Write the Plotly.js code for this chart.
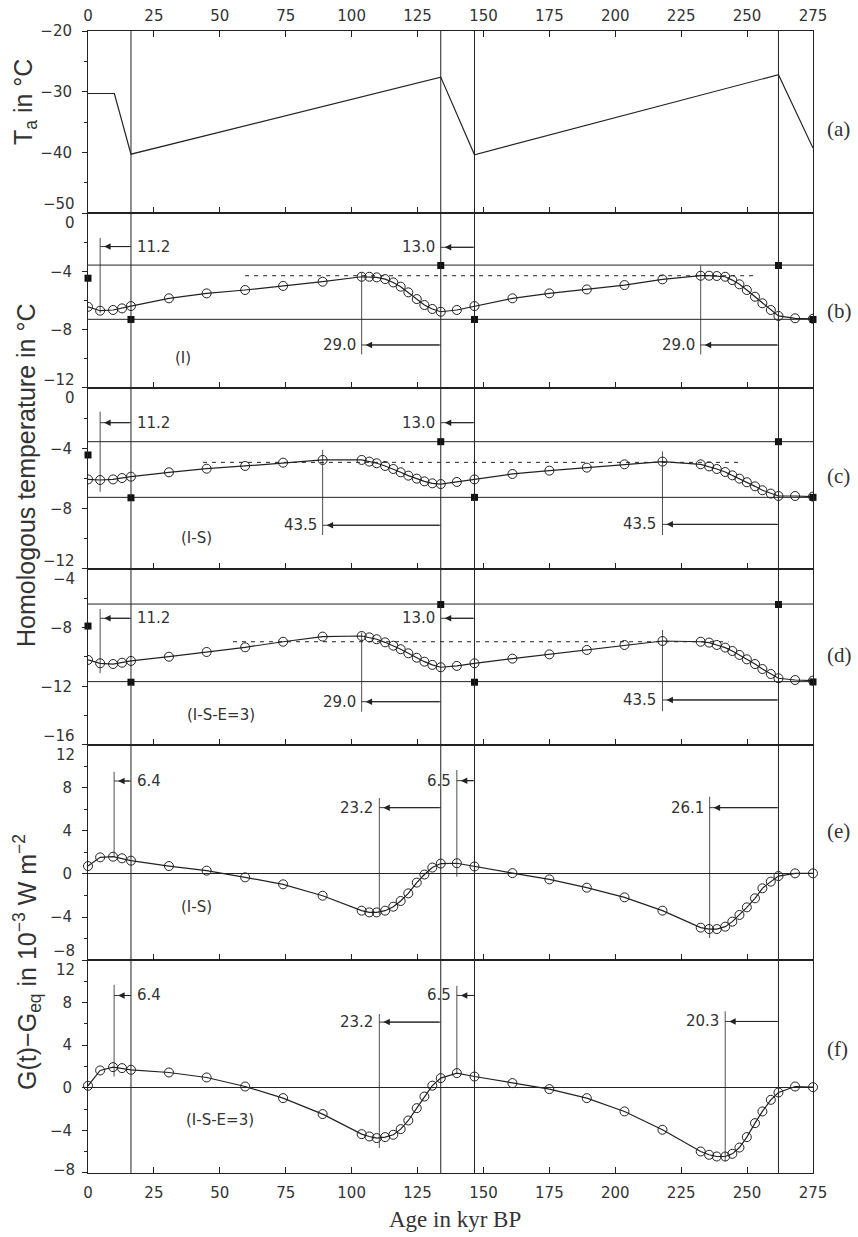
<!DOCTYPE html>
<html><head><meta charset="utf-8">
<script src="https://cdn.plot.ly/plotly-3.0.1.min.js"></script>
<style>html,body{margin:0;padding:0;background:#fff}#chart{width:858px;height:1237px}</style>
</head><body><div id="chart"></div>
<script>
// ---------- data ----------
const ages = [0, 4.6, 9.5, 12.9, 16.3, 30.7, 45, 59.6, 74, 89, 103.8, 106.7, 109.5, 112.7, 115.8, 118.6, 121.5, 124.7, 127.6, 130.6, 133.8, 139.9, 146.6, 161, 175, 189.2, 203.5, 217.9, 232.4, 235.6, 238.5, 241.7, 244.4, 247.1, 249.9, 253, 255.8, 259, 261.9, 268.2, 275];
const taAge = [0, 10, 16.3, 133.8, 146.6, 261.9, 275];
const taVal = [-30.3, -30.3, -40.3, -27.6, -40.4, -27.2, -39.3];
const tempB = [-6.43, -6.70, -6.65, -6.54, -6.38, -5.85, -5.51, -5.28, -5.0, -4.71, -4.37, -4.37, -4.41, -4.53, -4.76, -5.05, -5.44, -5.90, -6.31, -6.58, -6.77, -6.65, -6.38, -5.85, -5.51, -5.24, -4.94, -4.55, -4.30, -4.30, -4.32, -4.37, -4.60, -4.89, -5.28, -5.74, -6.19, -6.65, -7.06, -7.22, -7.25];
const tempC = [-6.06, -6.10, -6.06, -5.97, -5.88, -5.59, -5.35, -5.17, -4.95, -4.77, -4.77, -4.88, -4.99, -5.17, -5.37, -5.59, -5.81, -6.01, -6.19, -6.32, -6.37, -6.23, -6.06, -5.70, -5.48, -5.28, -5.06, -4.88, -5.06, -5.20, -5.37, -5.57, -5.79, -6.01, -6.25, -6.52, -6.78, -7.00, -7.16, -7.16, -7.20];
const tempD = [-10.20, -10.43, -10.48, -10.39, -10.27, -9.98, -9.66, -9.34, -8.96, -8.61, -8.57, -8.66, -8.79, -9.00, -9.23, -9.47, -9.75, -10.05, -10.32, -10.54, -10.70, -10.61, -10.43, -10.11, -9.82, -9.52, -9.18, -8.91, -8.96, -9.02, -9.18, -9.36, -9.59, -9.86, -10.16, -10.48, -10.82, -11.16, -11.45, -11.57, -11.61];
const fluxE = [0.74, 1.55, 1.61, 1.46, 1.24, 0.74, 0.31, -0.31, -0.96, -2.02, -3.41, -3.57, -3.57, -3.41, -3.04, -2.51, -1.80, -0.80, -0.05, 0.60, 0.97, 1.00, 0.70, 0.08, -0.50, -1.27, -2.17, -3.41, -4.99, -5.12, -5.12, -4.90, -4.43, -3.81, -3.10, -2.26, -1.33, -0.71, -0.19, 0.06, 0.06];
const fluxF = [0.19, 1.63, 1.94, 1.85, 1.69, 1.44, 0.97, 0.12, -0.97, -2.47, -4.35, -4.57, -4.72, -4.63, -4.41, -3.88, -3.07, -1.91, -0.82, 0.20, 0.91, 1.38, 1.06, 0.44, -0.12, -0.97, -2.22, -3.94, -5.98, -6.29, -6.45, -6.45, -6.20, -5.61, -4.63, -3.32, -2.22, -1.13, -0.44, 0.12, 0.06];

const markAge = [0, 16.3, 133.8, 146.6, 261.9, 275];
const markB = [-4.47, -7.3, -3.6, -7.3, -3.6, -7.3];
const markC = [-4.44, -7.28, -3.56, -7.25, -3.56, -7.25];
const markD = [-7.89, -11.72, -6.42, -11.72, -6.42, -11.7];

const spanAge = [0, 275];
const levelsB = [-3.57, -7.29];
const levelsC = [-3.56, -7.25];
const levelsD = [-6.39, -11.68];

const dashAgeB = [59.6, 253], dashValB = -4.3;
const dashAgeC = [43.6, 248.5], dashValC = -4.93;
const dashAgeD = [55, 243], dashValD = -8.96;

const switchAges = [16.3, 133.8, 146.6, 261.9];

const thinAgeB = [4.6, 103.8, 232.4], thinTopB = [-1.7, -4.1, -3.6], thinBotB = [-6.85, -9.7, -9.7];
const thinAgeC = [4.6, 89, 217.9], thinTopC = [-1.57, -4.1, -4.2], thinBotC = [-6.88, -9.75, -9.75];
const thinAgeD = [4.6, 103.8, 217.9], thinTopD = [-6.73, -8.34, -8.16], thinBotD = [-11.1, -13.73, -13.7];
const thinAgeE = [9.9, 110.5, 139.9, 235.8], thinTopE = [9.5, 7.07, 9.67, 7.19], thinBotE = [1.6, -3.8, -0.25, -5.95];
const thinAgeF = [9.9, 110.5, 139.9, 241.7], thinTopF = [9.67, 6.92, 9.58, 7.17], thinBotF = [1.06, -5.66, 1.4, -6.9];

const tipB = [4.6, 133.8, 103.8, 232.4], tailB = [16.3, 146.6, 133.8, 261.9], arrYB = [-2.3, -2.35, -9.05, -9.05], lagB = ['11.2', '13.0', '29.0', '29.0'];
const tipC = [4.6, 133.8, 89, 217.9], tailC = [16.3, 146.6, 133.8, 261.9], arrYC = [-2.3, -2.3, -9.1, -9.04], lagC = ['11.2', '13.0', '43.5', '43.5'];
const tipD = [4.6, 133.8, 103.8, 217.9], tailD = [16.3, 146.6, 133.8, 261.9], arrYD = [-7.36, -7.36, -13.05, -12.93], lagD = ['11.2', '13.0', '29.0', '43.5'];
const tipE = [9.9, 110.5, 139.9, 235.8], tailE = [16.3, 133.8, 146.6, 261.9], arrYE = [8.65, 6.17, 8.68, 6.17], lagE = ['6.4', '23.2', '6.5', '26.1'];
const tipF = [9.9, 110.5, 139.9, 241.7], tailF = [16.3, 133.8, 146.6, 261.9], arrYF = [8.67, 6.17, 8.67, 6.23], lagF = ['6.4', '23.2', '6.5', '20.3'];

const caseText = ['(I)', '(I-S)', '(I-S-E=3)', '(I-S)', '(I-S-E=3)'];
const caseAge = [36, 41, 50.5, 41, 50];
const caseVal = [-9.95, -9.95, -13.95, -3.04, -3.0];

const xTicks = [0, 25, 50, 75, 100, 125, 150, 175, 200, 225, 250, 275];
const xTickText = ['0', '25', '50', '75', '100', '125', '150', '175', '200', '225', '250', '275'];

const yTicksA = [-50, -40, -30, -20], yMinorA = [-45, -35, -25];
const yTicksBC = [-12, -8, -4, 0], yMinorBC = [-10, -6, -2];
const yTicksD = [-16, -12, -8, -4], yMinorD = [-14, -10, -6];
const yTicksEF = [-8, -4, 0, 4, 8, 12], yMinorEF = [-6, -2, 2, 6, 10];

const panelLetters = ['(a)', '(b)', '(c)', '(d)', '(e)', '(f)'];

// ---------- styling / layout ----------
const INK = '#222';
const TXT = '#333';
const tickFont = {family: 'DejaVu Sans', size: 15, color: TXT};
const labFont = {family: 'DejaVu Sans', size: 15, color: TXT};
const domains = [[0.8406, 1], [0.6874, 0.8406], [0.5289, 0.6874], [0.3748, 0.5289], [0.1865, 0.3748], [0, 0.1865]];
const ranges = [[-50, -20], [-12, 0], [-12, 0], [-16, -4], [-8, 12], [-8, 12]];
const majors = [yTicksA, yTicksBC, yTicksBC, yTicksD, yTicksEF, yTicksEF];
const minors = [yMinorA, yMinorBC, yMinorBC, yMinorD, yMinorEF, yMinorEF];
// pixel offsets of the labels at panel edges (top, bottom)
const edgeShift = [[-2, 9], [-10, 8], [-10, 8], [-10, 9], [-10, 9], [-10, 3]];

const fmt = v => (v < 0 ? '\u2212' + Math.abs(v) : String(v));

const layout = {
  width: 858, height: 1237,
  margin: {l: 88, r: 45, t: 31, b: 64},
  paper_bgcolor: '#fff', plot_bgcolor: '#fff',
  showlegend: false,
  font: {family: 'DejaVu Sans', color: TXT},
  shapes: [], annotations: []
};

const ax = i => (i === 0 ? '' : String(i + 1));

for (let i = 0; i < 6; i++) {
  const yk = 'yaxis' + ax(i), xk = 'xaxis' + ax(i);
  const maj = majors[i];
  const lo = ranges[i][0], hi = ranges[i][1];
  layout[yk] = {
    domain: domains[i], range: ranges[i], anchor: 'x' + ax(i),
    tickmode: 'array', tickvals: maj,
    ticktext: maj.map(v => (v === lo || (v === hi && i > 0)) ? '' : fmt(v)),
    ticks: 'outside', ticklen: 5, tickwidth: 1, tickcolor: INK,
    minor: {tickmode: 'array', tickvals: minors[i], ticks: 'outside', ticklen: 3, tickwidth: 1, tickcolor: INK},
    showline: true, linecolor: INK, linewidth: 1, mirror: true,
    showgrid: false, zeroline: i >= 4, zerolinecolor: INK, zerolinewidth: 1,
    tickfont: tickFont, ticklabelstandoff: 7, fixedrange: true
  };
  layout[xk] = {
    domain: [0, 1], range: [0, 275], anchor: 'y' + ax(i),
    tickmode: 'array', tickvals: xTicks, ticktext: xTickText,
    ticks: 'inside', ticklen: 6, tickwidth: 1, tickcolor: INK,
    showline: true, linecolor: INK, linewidth: 1, mirror: true,
    showgrid: false, zeroline: false, tickfont: tickFont,
    showticklabels: (i === 0 || i === 5), ticklabelstandoff: i === 0 ? 3 : 6, fixedrange: true
  };
  if (i > 0) layout[xk].matches = 'x';
  // edge tick labels shifted inward
  const edges = i === 0 ? [lo] : [hi, lo];
  edges.forEach(v => {
    layout.annotations.push({
      xref: 'paper', x: 0, xanchor: 'right', xshift: -11,
      yref: 'y' + ax(i), y: v, yanchor: 'middle',
      yshift: v === hi ? edgeShift[i][0] : edgeShift[i][1],
      text: fmt(v), showarrow: false, font: tickFont
    });
  });
}
layout.xaxis.side = 'top';
layout.xaxis.mirror = 'ticks';

// ---------- traces ----------
const data = [];
const lineStyle = {color: INK, width: 1.2};
data.push({x: taAge, y: taVal, xaxis: 'x', yaxis: 'y', mode: 'lines', line: lineStyle});

const tempSets = [[tempB, markB, levelsB, dashAgeB, dashValB], [tempC, markC, levelsC, dashAgeC, dashValC], [tempD, markD, levelsD, dashAgeD, dashValD]];
tempSets.forEach((s, k) => {
  const xa = 'x' + ax(k + 1), ya = 'y' + ax(k + 1);
  data.push({x: [spanAge[0], spanAge[1], null, spanAge[0], spanAge[1]], y: [s[2][0], s[2][0], null, s[2][1], s[2][1]],
    xaxis: xa, yaxis: ya, mode: 'lines', line: {color: INK, width: 1}});
  data.push({x: s[3], y: [s[4], s[4]], xaxis: xa, yaxis: ya, mode: 'lines', line: {color: INK, width: 1, dash: '4px,5px'}});
  data.push({x: ages, y: s[0], xaxis: xa, yaxis: ya, mode: 'lines+markers', line: lineStyle,
    marker: {symbol: 'circle-open', size: 9, color: INK, line: {width: 1, color: INK}}});
  data.push({x: markAge, y: s[1], xaxis: xa, yaxis: ya, mode: 'markers', cliponaxis: false,
    marker: {symbol: 'square', size: 7, color: '#111'}});
});
[fluxE, fluxF].forEach((s, k) => {
  data.push({x: ages, y: s, xaxis: 'x' + ax(k + 4), yaxis: 'y' + ax(k + 4), mode: 'lines+markers', line: lineStyle, cliponaxis: false,
    marker: {symbol: 'circle-open', size: 9, color: INK, line: {width: 1, color: INK}}});
});

// ---------- shapes & annotations ----------
switchAges.forEach(a => layout.shapes.push({type: 'line', xref: 'x', yref: 'paper', x0: a, x1: a, y0: 0, y1: 1, line: {color: INK, width: 1}}));

const thinSets = [[thinAgeB, thinTopB, thinBotB], [thinAgeC, thinTopC, thinBotC], [thinAgeD, thinTopD, thinBotD], [thinAgeE, thinTopE, thinBotE], [thinAgeF, thinTopF, thinBotF]];
const arrowSets = [[tipB, tailB, arrYB, lagB], [tipC, tailC, arrYC, lagC], [tipD, tailD, arrYD, lagD], [tipE, tailE, arrYE, lagE], [tipF, tailF, arrYF, lagF]];

for (let k = 0; k < 5; k++) {
  const xa = 'x' + ax(k + 1), ya = 'y' + ax(k + 1);
  const t = thinSets[k];
  t[0].forEach((a, j) => layout.shapes.push({type: 'line', xref: xa, yref: ya, x0: a, x1: a, y0: t[1][j], y1: t[2][j], line: {color: INK, width: 0.8}}));
  const A = arrowSets[k];
  A[0].forEach((tip, j) => {
    const tail = A[1][j], y = A[2][j];
    layout.shapes.push({type: 'line', xref: xa, yref: ya, x0: tip, x1: tail, y0: y, y1: y, line: {color: INK, width: 0.9}});
    layout.annotations.push({xref: xa, yref: ya, axref: xa, ayref: ya, x: tip, y: y, ax: tail, ay: y, text: '',
      showarrow: true, arrowhead: 2, arrowsize: 1.3, arrowwidth: 1, arrowcolor: INK, standoff: 4});
    const right = j === 0;
    layout.annotations.push({xref: xa, yref: ya, x: right ? tail : tip, y: y, text: A[3][j], showarrow: false,
      xanchor: right ? 'left' : 'right', xshift: right ? 4 : -4, yanchor: 'middle', font: labFont});
  });
  layout.annotations.push({xref: xa, yref: ya, x: caseAge[k], y: caseVal[k], text: caseText[k], showarrow: false, font: labFont});
}

const letterY = [0.9264, 0.7671, 0.6103, 0.4536, 0.2872, 0.0963];
panelLetters.forEach((t, i) => layout.annotations.push({xref: 'paper', yref: 'paper', x: 1, y: letterY[i], xanchor: 'left', xshift: 12,
  text: t, showarrow: false, font: {family: 'Liberation Serif', size: 21, color: TXT}}));

const titleFont = {family: 'Liberation Sans', size: 25, color: TXT};
const titleBase = {xref: 'paper', yref: 'paper', x: 0, xanchor: 'center', yanchor: 'middle', textangle: -90, showarrow: false, font: titleFont};
layout.annotations.push(Object.assign({}, titleBase, {xshift: -63, y: 0.9378, text: 'T<sub>a</sub> in °C'}));
layout.annotations.push(Object.assign({}, titleBase, {xshift: -62, y: 0.6112, text: 'Homologous temperature in °C'}));
layout.annotations.push(Object.assign({}, titleBase, {xshift: -61, y: 0.1848, text: 'G(t)\u2212G<sub>eq</sub> in 10<sup>\u22123</sup> W m<sup>\u22122</sup>'}));
layout.annotations.push({xref: 'paper', yref: 'paper', x: 0.506, y: -0.0403, xanchor: 'center', yanchor: 'middle', text: 'Age in kyr BP', showarrow: false,
  font: {family: 'Liberation Serif', size: 23, color: TXT}});

Plotly.newPlot('chart', data, layout, {staticPlot: true, displayModeBar: false});
</script>
</body></html>
